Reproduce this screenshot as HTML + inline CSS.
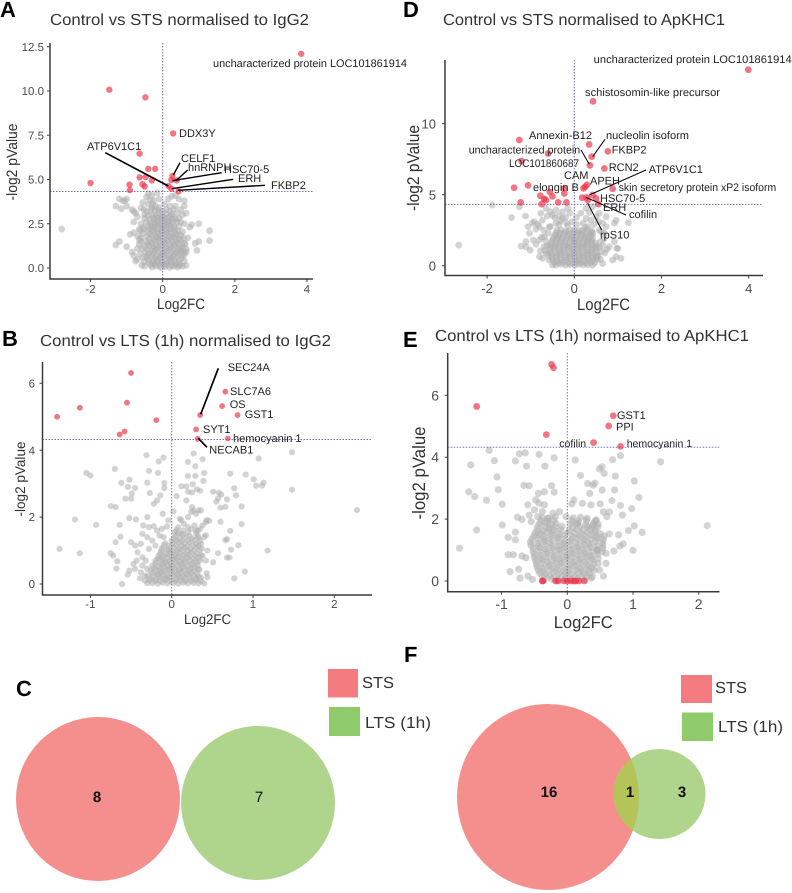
<!DOCTYPE html>
<html lang="en">
<head>
<meta charset="utf-8">
<title>Volcano plots and Venn diagrams</title>
<style>
html,body{margin:0;padding:0;background:#fff;width:792px;height:893px;overflow:hidden}
svg{display:block;font-family:"Liberation Sans",sans-serif;text-rendering:geometricPrecision}
.ann{font-size:11px;fill:#222}
.title{font-size:16px;fill:#333}
.letter{font-size:22px;font-weight:bold;fill:#000}
.lead{stroke:#000;fill:none}
.ax{stroke:#3a3a3a;stroke-width:1.5;fill:none}
.venn{font-size:16px;fill:#333}
.num{font-size:15px;fill:#111}
</style>
</head>
<body>
<svg id="figure" width="792" height="893" viewBox="0 0 792 893" xmlns="http://www.w3.org/2000/svg">
  <defs>
    <clipPath id="vennFStsClip"><ellipse cx="548" cy="797" rx="91" ry="93"/></clipPath>
  </defs>
  <rect width="792" height="893" fill="#fff"/>

  <!-- Panel A -->
  <text class="letter" x="0" y="17">A</text>
  <text class="title" x="50" y="25" textLength="259" lengthAdjust="spacingAndGlyphs">Control vs STS normalised to IgG2</text>
  <g id="panelA"></g>
  <path class="ax" d="M50 43V279H313"/>
  <text x="157" y="309" font-size="15" fill="#333" textLength="48" lengthAdjust="spacingAndGlyphs">Log2FC</text>
  <text transform="translate(17,200.5) rotate(-90)" font-size="15" fill="#333" textLength="77" lengthAdjust="spacingAndGlyphs">-log2 pValue</text>
  <g>
    <path class="lead" stroke-width="1.6" d="M105.3 152.7L168.3 186"/>
    <path class="lead" stroke-width="1.4" d="M180 162.7L173.3 175"/>
    <path class="lead" stroke-width="1.4" d="M187.7 170L175.7 181"/>
    <path class="lead" stroke-width="1.4" d="M221.7 172.7L172.3 180.7"/>
    <path class="lead" stroke-width="1.4" d="M233.3 179.3L171.7 188.7"/>
    <path class="lead" stroke-width="1.4" d="M265 185.3L177.7 190.3"/>
  </g>
  <g>
    <text class="ann" x="213" y="67" textLength="194" lengthAdjust="spacingAndGlyphs">uncharacterized protein LOC101861914</text>
    <text class="ann" x="179" y="137">DDX3Y</text>
    <text class="ann" x="87" y="150">ATP6V1C1</text>
    <text class="ann" x="181" y="162">CELF1</text>
    <text class="ann" x="188" y="171">hnRNPH</text>
    <text class="ann" x="224" y="173">HSC70-5</text>
    <text class="ann" x="238" y="182">ERH</text>
    <text class="ann" x="271" y="189">FKBP2</text>
  </g>

  <!-- Panel D -->
  <text class="letter" x="403" y="17">D</text>
  <text class="title" x="443" y="25" textLength="282" lengthAdjust="spacingAndGlyphs">Control vs STS normalised to ApKHC1</text>
  <g id="panelD"></g>
  <path class="ax" d="M445 60V275.5H763"/>
  <text x="577" y="310" font-size="16.5" fill="#333" textLength="53" lengthAdjust="spacingAndGlyphs">Log2FC</text>
  <text transform="translate(419,211) rotate(-90)" font-size="17" fill="#333" textLength="86" lengthAdjust="spacingAndGlyphs">-log2 pValue</text>
  <g>
    <path class="lead" stroke-width="1" d="M605 139.3L592.7 156.7"/>
    <path class="lead" stroke-width="1" d="M581 150L589.3 164.3"/>
    <path class="lead" stroke-width="1" d="M646 170L589.3 195"/>
    <path class="lead" stroke-width="1" d="M626 215L586 197.3"/>
    <path class="lead" stroke-width="1" d="M601.7 230L587.7 203.3"/>
  </g>
  <g>
    <text class="ann" x="593.7" y="63" textLength="198" lengthAdjust="spacingAndGlyphs">uncharacterized protein LOC101861914</text>
    <text class="ann" x="585" y="96" textLength="135" lengthAdjust="spacingAndGlyphs">schistosomin-like precursor</text>
    <text class="ann" x="529" y="139">Annexin-B12</text>
    <text class="ann" x="606" y="139" textLength="83" lengthAdjust="spacingAndGlyphs">nucleolin isoform</text>
    <text class="ann" x="468.7" y="153.5" textLength="111.5" lengthAdjust="spacingAndGlyphs">uncharacterized protein</text>
    <text class="ann" x="611.7" y="153.5">FKBP2</text>
    <text class="ann" x="509" y="167" textLength="70" lengthAdjust="spacingAndGlyphs">LOC101860687</text>
    <text class="ann" x="608.7" y="171">RCN2</text>
    <text class="ann" x="648.7" y="173">ATP6V1C1</text>
    <text class="ann" x="564" y="179">CAM</text>
    <text class="ann" x="590" y="184.5">APEH</text>
    <text class="ann" x="618.7" y="191" textLength="157.5" lengthAdjust="spacingAndGlyphs">skin secretory protein xP2 isoform</text>
    <text class="ann" x="533" y="191">elongin B</text>
    <text class="ann" x="600" y="202">HSC70-5</text>
    <text class="ann" x="603" y="211">ERH</text>
    <text class="ann" x="629" y="218">cofilin</text>
    <text class="ann" x="600" y="238.5">rpS10</text>
  </g>

  <!-- Panel B -->
  <text class="letter" x="2" y="346">B</text>
  <text class="title" x="40" y="346" textLength="291" lengthAdjust="spacingAndGlyphs">Control vs LTS (1h) normalised to IgG2</text>
  <g id="panelB"></g>
  <path class="ax" d="M42.5 362V595H372"/>
  <text x="184" y="624" font-size="14" fill="#333" textLength="47" lengthAdjust="spacingAndGlyphs">Log2FC</text>
  <text transform="translate(25,516.5) rotate(-90)" font-size="14" fill="#333" textLength="75" lengthAdjust="spacingAndGlyphs">-log2 pValue</text>
  <g>
    <path class="lead" stroke-width="1.7" d="M218.3 368.3L200.7 414.3"/>
    <path class="lead" stroke-width="1.7" d="M198.3 438.3L207 447.3"/>
  </g>
  <g>
    <text class="ann" x="227.7" y="371">SEC24A</text>
    <text class="ann" x="230" y="395">SLC7A6</text>
    <text class="ann" x="229.7" y="408">OS</text>
    <text class="ann" x="244.7" y="418">GST1</text>
    <text class="ann" x="203" y="433">SYT1</text>
    <text class="ann" x="233" y="442">hemocyanin 1</text>
    <text class="ann" x="209.3" y="453.5">NECAB1</text>
  </g>

  <!-- Panel E -->
  <text class="letter" x="403" y="347">E</text>
  <text class="title" x="435" y="341" textLength="314" lengthAdjust="spacingAndGlyphs">Control vs LTS (1h) normaised to ApKHC1</text>
  <g id="panelE"></g>
  <path class="ax" d="M447.7 353V591.7H719.5"/>
  <text x="553.7" y="628" font-size="17" fill="#333" textLength="59" lengthAdjust="spacingAndGlyphs">Log2FC</text>
  <text transform="translate(425,519.5) rotate(-90)" font-size="18" fill="#333" textLength="93" lengthAdjust="spacingAndGlyphs">-log2 pValue</text>
  <g>
    <text class="ann" x="617" y="419">GST1</text>
    <text class="ann" x="616" y="430.5">PPI</text>
    <text class="ann" x="559.3" y="447" style="font-size:10.5px">cofilin</text>
    <text class="ann" x="626.7" y="447" style="font-size:10.5px">hemocyanin 1</text>
  </g>

  <!-- Venn C -->
  <text class="letter" x="16" y="696">C</text>
  <g>
    <ellipse cx="98" cy="799" rx="82" ry="82" fill="#f58f8d"/>
    <ellipse cx="258" cy="803" rx="77" ry="77" fill="#afd58c"/>
    <text class="num" font-weight="bold" x="97" y="802" text-anchor="middle">8</text>
    <text class="num" x="259" y="802" text-anchor="middle">7</text>
    <rect x="328" y="669" width="30" height="28.5" fill="#f47c80"/>
    <text class="venn" x="362" y="688" textLength="32" lengthAdjust="spacingAndGlyphs">STS</text>
    <rect x="329" y="707" width="31" height="29" fill="#8fcb6a"/>
    <text class="venn" x="365" y="728" textLength="66" lengthAdjust="spacingAndGlyphs">LTS (1h)</text>
  </g>

  <!-- Venn F -->
  <text class="letter" x="404" y="662">F</text>
  <g>
    <ellipse cx="548" cy="797" rx="91" ry="93" fill="#f58f8d"/>
    <ellipse cx="659.5" cy="794" rx="46" ry="45" fill="#afd58c"/>
    <ellipse cx="659.5" cy="794" rx="46" ry="45" fill="#b5c458" clip-path="url(#vennFStsClip)"/>
    <text class="num" font-weight="bold" x="549" y="797" text-anchor="middle">16</text>
    <text class="num" font-weight="bold" x="630" y="797" text-anchor="middle">1</text>
    <text class="num" font-weight="bold" x="682" y="797" text-anchor="middle">3</text>
    <rect x="681" y="675" width="31" height="28" fill="#f47c80"/>
    <text class="venn" x="715" y="693" textLength="32" lengthAdjust="spacingAndGlyphs">STS</text>
    <rect x="682" y="712.5" width="31" height="28.5" fill="#8fcb6a"/>
    <text class="venn" x="718" y="732" textLength="65" lengthAdjust="spacingAndGlyphs">LTS (1h)</text>
  </g>
</svg>

<script>
/* ---------- shared chart values ---------- */
var threshold = 4.32;

/* ---------- panel A values ---------- */
var aXTicks = [-2, 0, 2, 4];
var aXLabels = ['-2', '0', '2', '4'];
var aYTicks = [0, 2.5, 5, 7.5, 10, 12.5];
var aYLabels = ['0.0', '2.5', '5.0', '7.5', '10.0', '12.5'];
var aGrayFC = [
-2.8,1.3,1.3,1.0,0.8,1.0,0.9,0.95,0.6,0.65,-1.2,-1.3,-0.8,-0.9,-0.8,-1.0,-0.85,-0.75,-0.7,-0.65,
-1.2,-1.1,-1.05,-1.0,-1.3,-1.15,-1.0,-0.85,-0.8,-0.75,-0.6,-0.55,-0.45,-0.4,-0.3,-0.25,-0.15,-0.1,-0.4,-0.3,-0.2,-0.1,0.05,0.15,0.25,0.35,0.45,0.6,0.6,0.5,0.35,0.3,0.2,0.4,0.55,0.65,0.45,0.5,0.35,0.6,-0.8,-0.7,-0.6,-0.5,-0.65,-0.55,-0.45,-0.7,-0.6,0.75,0.7,
-.3,-.19,-.11,.01,.09,.21,
-.35,-.24,-.16,-.05,.06,.14,.26,
-.4,-.29,-.2,-.09,.02,.1,.21,.31,
-.41,-.27,-.17,-.03,.08,.19,.33,
-.43,-.3,-.18,-.07,.06,.17,.3,.41,
-.46,-.33,-.2,-.09,.04,.15,.26,.39,.51,
-.5,-.38,-.25,-.14,-.01,.1,.23,.34,.46,
-.48,-.36,-.23,-.12,.01,.12,.25,.36,.49,.58,
-.45,-.32,-.21,-.08,.03,.16,.27,.39,.52,
-.38,-.25,-.14,-.02,.11,.22,.35,.46,
-.3,-.18,-.05,.06,.19,.3,.42,
-.7,-.62,-.58,-.65,-.6,-.55,-.62,-.52,-.58,-.5,-.55,-.52,-.5,-.45,-.4,-.52,-.35,-.28,-.33,-.22,-.12,0,.1,.2,
.6,.65,.55,.6,.66,.55,.62,.58,.5,.55,.42,.45,.4,.3,.25,
-.25,-.14,-.05,.05,.15,
-.33,-.22,-.12,-.02,.08,.18,.28,
-.35,-.23,-.12,-.02,.1,.2,.3,
-.36,-.24,-.12,0,.12,.24,.36,
-.38,-.25,-.13,-.01,.11,.24,.35,.46,
-.42,-.3,-.18,-.05,.07,.2,.32,.44,
-.43,-.3,-.18,-.06,.06,.18,.3,.42,.53,
-.42,-.28,-.17,-.04,.07,.19,.31,.43,.54,
-.4,-.27,-.15,-.03,.09,.21,.33,.45,
-.33,-.2,-.08,.04,.14,.25,.36,.47
];
var aGrayP = [
2.2,2.1,1.55,2.5,2.45,1.5,1.4,1.0,1.4,0.9,1.5,1.3,2.0,1.9,0.7,1.2,0.9,0.4,1.1,1.6,
3.9,3.8,3.8,3.9,3.5,3.35,3.5,3.3,3.2,3.1,3.4,3.7,4.0,4.2,4.1,3.8,4.25,3.9,3.6,3.4,3.5,3.4,3.6,3.9,4.05,4.1,3.9,3.8,3.5,3.3,3.5,3.3,3.2,3.1,3.0,3.1,2.8,2.6,2.75,2.5,2.6,2.9,2.5,2.8,2.2,2.3,2.6,1.8,1.5,2.3,1.7,
3.0,2.95,3.1,2.9,3.05,2.95,
2.7,2.75,2.65,2.8,2.7,2.65,2.75,
2.4,2.35,2.45,2.4,2.35,2.45,2.4,2.35,
2.1,2.15,2.05,2.1,2.15,2.05,2.1,
1.8,1.85,1.75,1.8,1.85,1.8,1.75,1.85,
1.5,1.45,1.55,1.5,1.45,1.55,1.5,1.45,1.55,
1.2,1.25,1.15,1.2,1.25,1.15,1.2,1.25,1.15,
.9,.85,.95,.9,.85,.95,.9,.85,.95,.9,
.6,.65,.55,.6,.65,.55,.6,.65,.55,
.3,.25,.35,.3,.25,.35,.3,.25,
.05,.1,.02,.08,.03,.1,.05,
.5,.8,1.1,1.35,1.7,1.95,2.1,.35,.15,.1,.6,2.2,3.0,3.2,2.95,3.3,3.85,3.6,3.25,3.25,3.25,3.2,3.3,3.5,
.4,.15,.1,.75,1.05,1.2,1.35,1.7,1.85,2.05,2.1,2.35,2.6,2.85,3.05,
2.85,2.82,2.88,2.85,2.82,
2.55,2.52,2.58,2.55,2.52,2.58,2.55,
2.25,2.28,2.22,2.25,2.28,2.22,2.25,
1.95,1.98,1.92,1.95,1.98,1.92,1.95,
1.65,1.62,1.68,1.65,1.62,1.68,1.65,1.62,
1.35,1.38,1.32,1.35,1.38,1.32,1.35,1.38,
1.05,1.02,1.08,1.05,1.02,1.08,1.05,1.02,1.08,
.75,.78,.72,.75,.78,.72,.75,.78,.72,
.45,.42,.48,.45,.42,.48,.45,.42,
.17,.2,.15,.18,.2,.15,.18,.15
];
var aRedFC = [3.84,-1.48,-0.48,0.29,-0.64,-0.4,-0.21,0.27,0.24,0.39,-0.64,-0.47,-0.3,-2.0,-0.92,-0.56,-0.5,-0.91,0.16,0.24,0.44];
var aRedP = [12.1,10.07,9.64,7.6,6.46,5.6,5.6,5.2,4.97,4.95,5.12,5.14,4.95,4.8,4.71,4.73,4.6,4.4,4.63,4.48,4.33];

/* ---------- panel D values ---------- */
var dXTicks = [-2, 0, 2, 4];
var dXLabels = ['-2', '0', '2', '4'];
var dYTicks = [0, 5, 10];
var dYLabels = ['0', '5', '10'];
var dGrayFC = [
-2.65,-1.88,-1.44,-1.26,-1.12,-1.22,-1.11,-1.01,-1.11,1.24,1.07,.96,.88,1.0,.92,.65,.8,.97,-.8,-.5,-.73,.65,.96,.92,
-1.06,-.96,-.84,-.88,-.77,-.65,-.42,-.27,-.5,-.73,-.57,-.42,-.27,-.15,.27,.42,.57,.5,.27,.31,.65,.57,.42,.69,.73,.73,-1.03,-.94,-.8,-.69,-.69,-.65,
-.42,-.31,-.2,-.1,.01,.1,.2,.31,.42,
-.5,-.4,-.3,-.19,-.09,.02,.11,.22,.32,.43,.52,
-.53,-.41,-.32,-.2,-.1,0,.11,.2,.31,.4,.52,
-.56,-.45,-.33,-.24,-.12,-.03,.08,.18,.3,.4,.5,
-.55,-.44,-.34,-.22,-.13,-.01,.09,.2,.29,.41,.5,
-.5,-.4,-.3,-.2,-.08,.01,.1,.21,.3,.4,
-.45,-.35,-.25,-.14,-.04,.06,.17,.27,.38,
-.4,-.31,-.2,-.1,0,.1,.19,.3,.4,
-.92,-.8,-.7,-.6,-.62,-.55,-.45,-.35,-.32,-.2,-.18,-.1,-.05,.05,.15,.2,.35,.38,.45,.55,.62,.68,.6,.58,.62,.55,.6,.7,.75,-.65,-.62,-.68,-.6,-.58,-.75,-.88,-.78,-.55,-.35,-.15,.05,.25,
-.46,-.36,-.25,-.15,-.04,.06,.16,.27,.37,.47,
-.52,-.42,-.31,-.2,-.1,.01,.11,.21,.31,.42,.51,
-.55,-.44,-.33,-.22,-.11,-.01,.09,.19,.3,.4,.51,
-.56,-.45,-.34,-.23,-.12,-.02,.08,.19,.3,.4,.5,
-.52,-.42,-.32,-.21,-.1,0,.1,.2,.3,.4,.48,
-.48,-.38,-.28,-.17,-.06,.04,.14,.24,.34,.42,
-.42,-.33,-.22,-.12,-.02,.08,.18,.28,.39
];
var dGrayP = [
1.45,4.27,3.4,4.15,3.5,1.38,1.33,1.1,1.7,3.03,.52,.63,.4,1.22,1.69,1.45,1.34,1.22,.63,.05,.52,.16,3.2,3.0,
2.75,3,2.93,2.58,3.69,4.04,3.92,3.8,3.57,3.2,2.75,3,3.33,4.04,4.04,4.15,3.69,3.45,3.33,2.75,3,2.5,2.28,2.28,3.45,2.75,2.28,1.8,1.8,2.05,1.34,.87,
.05,.1,.04,.08,.03,.1,.05,.08,.04,
.4,.35,.42,.38,.44,.36,.4,.35,.42,.38,.44,
.75,.72,.78,.74,.7,.78,.75,.72,.78,.74,.7,
1.1,1.14,1.06,1.1,1.14,1.06,1.1,1.14,1.06,1.1,1.14,
1.45,1.42,1.48,1.44,1.4,1.48,1.45,1.42,1.48,1.44,1.4,
1.8,1.84,1.76,1.8,1.84,1.76,1.8,1.84,1.76,1.8,
2.15,2.12,2.18,2.14,2.1,2.18,2.15,2.12,2.18,
2.5,2.54,2.46,2.5,2.54,2.46,2.5,2.54,2.46,
3.1,2.75,2.5,2.3,3.5,3.8,3.4,3.5,3.15,3.4,3.0,3.7,3.1,3.4,3.7,3.0,3.75,3.2,2.9,3.1,2.4,1.9,1.7,1.3,1.0,.7,.45,.9,1.15,1.75,1.4,1.05,.75,.4,2.0,1.5,1.05,2.75,2.9,2.85,2.9,2.7,
.22,.2,.24,.22,.2,.24,.22,.2,.24,.22,
.58,.6,.56,.58,.6,.56,.58,.6,.56,.58,.6,
.92,.9,.94,.92,.9,.94,.92,.9,.94,.92,.9,
1.28,1.3,1.26,1.28,1.3,1.26,1.28,1.3,1.26,1.28,1.3,
1.62,1.6,1.64,1.62,1.6,1.64,1.62,1.6,1.64,1.62,1.6,
1.98,2.0,1.96,1.98,2.0,1.96,1.98,2.0,1.96,1.98,
2.32,2.3,2.34,2.32,2.3,2.34,2.32,2.3,2.34
];
var dRedFC = [3.99,0.43,-1.26,0.34,-0.6,0.77,0.4,-1.21,0.36,0.69,-1.38,-1.06,-0.56,-0.78,-0.5,-0.23,-0.23,-0.69,-0.65,-0.75,-1.23,-0.37,-0.18,0.21,0.25,0.29,0.88,0.18,0.42,0.31,0.28,0.5,0.55];
var dRedP = [13.8,11.57,8.85,8.54,7.9,8.05,7.68,7.37,7.07,6.85,5.49,5.66,5.2,4.93,4.88,5.45,5.09,4.7,4.62,4.34,4.46,4.46,4.46,5.45,5.55,5.7,5.42,4.79,4.98,4.62,4.81,4.74,4.34];

/* ---------- panel B values ---------- */
var bXTicks = [-1, 0, 1, 2];
var bXLabels = ['-1', '0', '1', '2'];
var bYTicks = [0, 2, 4, 6];
var bYLabels = ['0', '2', '4', '6'];
var bGrayFC = [
-.31,-.1,-.16,-.7,-1.05,-1.0,-.28,-.17,-.52,-.62,-.3,-.09,-.54,-.45,-.09,-.49,-.27,-.57,-.5,-.14,-.18,-.22,-.75,-.69,-1.19,-.93,-.64,-.52,-.44,-.3,-.11,.02,-1.38,-1.13,-.75,-.72,-.67,-.68,-.69,-.63,-.61,-.54,-.39,
.27,.38,.2,.29,.4,.2,.29,.39,.26,.12,.18,.31,.35,.06,.2,.25,.51,.58,.61,.57,.55,.68,.72,.91,1.01,1.13,1.04,1.11,.77,.79,.86,1.07,1.48,1.48,2.28,1.18,.82,.73,.86,.6,.72,.68,.66,.9,.77,.71,.68,.57,.51,.6,.66,.43,.46,.42,.43,.44,.4,
-.3,-.24,-.17,-.11,-.05,.02,.08,.14,.2,.27,.33,
-.27,-.2,-.14,-.08,-.02,.05,.11,.17,.23,.3,.36,
-.24,-.18,-.12,-.06,0,.06,.12,.18,.24,.31,
-.22,-.15,-.09,-.03,.03,.09,.15,.22,.28,.33,
-.2,-.13,-.07,-.01,.05,.11,.17,.24,.31,
-.17,-.11,-.05,.01,.07,.13,.2,.27,.34,
-.14,-.08,-.02,.04,.1,.17,.24,.31,
-.12,-.04,.03,.09,.16,.23,.3,.37,
-.08,.01,.08,.15,.22,.3,
.03,.1,.17,.25,.33,-.1,
.08,.12,.2,.3,-.15,
-.35,-.28,-.22,-.18,-.12,-.06,-.04,-.36,-.3,-.24,-.2,-.28,-.38,-.45,-.5,-.42,-.36,-.32,-.43,-.45,-.36,-.3,-.52,-.33,-.38,-.47,
.1,.12,.2,.25,.18,.27,.33,.36,.24,.3,.15,.28,.38,.35,.42,.3,.4,.36,.44,.42,.38,.2,.08,.04,
-.33,-.27,-.2,-.14,-.08,-.02,.05,.11,.17,.24,.3,.36,
-.3,-.23,-.17,-.11,-.05,.02,.08,.14,.2,.27,.33,
-.26,-.2,-.14,-.08,-.02,.04,.1,.16,.22,.28,.34,
-.24,-.17,-.11,-.05,.01,.07,.13,.2,.26,.32,
-.2,-.14,-.08,-.02,.04,.1,.16,.22,.29,.35,
-.16,-.1,-.03,.03,.09,.15,.22,.29,.36,
-.13,-.06,.01,.07,.13,.2,.27,.34,
-.1,-.03,.05,.12,.19,.26,.33,
0,.06,.13,.2,.28,.35,
.05,.14,.22,.32,
.06,.14,.24,.32
];
var bGrayP = [
3.85,3.78,3.66,3.44,3.32,3.24,3.38,3.32,3.12,3.02,3.03,3.02,2.9,2.87,2.87,2.7,2.72,2.55,2.55,2.65,2.5,2.4,2.33,2.3,1.93,1.77,1.77,1.97,1.93,2.0,2.1,2.17,1.05,.92,.92,.85,.68,.46,1.25,1.41,0,.28,.17,
3.9,3.73,3.65,3.52,3.32,3.23,3.23,3.08,2.98,2.92,2.92,2.83,2.79,2.63,2.76,2.74,2.76,2.73,2.67,2.56,2.46,2.53,3.3,3.27,3.13,3.03,2.94,2.94,2.86,2.65,2.32,3.75,3.94,2.82,2.21,1.0,1.16,1.03,1.79,1.86,1.59,1.34,1.31,.37,.17,.79,.79,.92,.65,2.28,2.31,1.91,1.89,1.46,.32,.2,.02,
.02,.03,.01,.04,.02,.03,.01,.04,.02,.03,.02,
.17,.15,.19,.16,.18,.15,.19,.16,.18,.15,.19,
.32,.3,.34,.31,.33,.3,.34,.31,.33,.3,
.47,.45,.49,.46,.48,.45,.49,.46,.48,.45,
.62,.6,.64,.61,.63,.6,.64,.61,.63,
.77,.75,.79,.76,.78,.75,.79,.76,.78,
.92,.9,.94,.91,.93,.9,.94,.91,
1.07,1.05,1.09,1.06,1.08,1.05,1.09,1.06,
1.22,1.2,1.24,1.21,1.23,1.2,
1.37,1.35,1.39,1.36,1.38,1.4,
1.52,1.5,1.54,1.51,1.45,
1.75,1.7,1.73,1.6,1.65,1.72,1.9,1.5,1.4,1.3,1.15,1.05,1.2,1.15,1.25,.95,.8,.7,.7,.45,.55,.45,.4,.25,.35,.6,
1.95,1.9,2.0,2.3,2.5,2.2,2.2,2.2,2.15,2.1,1.8,1.75,1.75,1.65,1.85,1.6,1.4,1.2,1.0,.7,.85,1.7,1.7,1.55,
.1,.11,.09,.1,.12,.09,.1,.11,.09,.1,.12,.09,
.25,.24,.26,.25,.23,.26,.25,.24,.26,.25,.23,
.4,.41,.39,.4,.42,.39,.4,.41,.39,.4,.42,
.55,.54,.56,.55,.53,.56,.55,.54,.56,.55,
.7,.71,.69,.7,.72,.69,.7,.71,.69,.7,
.85,.84,.86,.85,.83,.86,.85,.84,.86,
1.0,1.01,.99,1.0,1.02,.99,1.0,1.01,
1.15,1.14,1.16,1.15,1.13,1.16,1.15,
1.3,1.31,1.29,1.3,1.32,1.29,
1.45,1.46,1.44,1.45,
1.62,1.6,1.64,1.6
];
var bRedFC = [-0.5,0.66,-0.55,-1.13,0.62,-1.41,0.35,0.81,-0.19,0.3,-0.58,-0.64,0.69,0.32];
var bRedP = [6.31,5.75,5.42,5.27,5.32,5.0,5.05,5.05,4.9,4.62,4.56,4.47,4.35,4.34];

/* ---------- panel E values ---------- */
var eXTicks = [-1, 0, 1, 2];
var eXLabels = ['-1', '0', '1', '2'];
var eYTicks = [0, 2, 4, 6];
var eYLabels = ['0', '2', '4', '6'];
var eGrayFC = [
-1.64,-1.5,-1.41,-1.23,-1.47,-1.19,-1.11,-1.07,-1.05,-.99,-.99,-1.38,-.9,-.9,-.82,-.87,-.74,-.72,-.6,-.53,-.69,-.63,-.79,-.79,-.76,-.69,-.79,-.73,-.64,-.43,-.62,-.34,-.2,.12,-.66,-.58,-.24,-.44,-.35,-.2,
1.42,2.13,.81,.69,.53,.49,.56,.73,1.02,.2,.31,.39,.42,.34,.53,.72,1.09,.68,.5,.36,.81,.98,.84,.55,.64,.6,.93,1.02,1.14,.64,.78,.85,.8,.71,1.0,.59,.46,.59,.49,.55,.36,.44,.39,.23,.1,.07,-.02,.16,
-.43,-.48,-.6,-.35,-.22,-.12,-.5,-.38,-.45,-.55,-.58,-.3,
-.35,-.24,-.14,-.04,.06,.16,.26,
-.42,-.33,-.22,-.13,-.03,.06,.16,.25,.33,
-.46,-.37,-.27,-.17,-.08,.02,.12,.21,.31,.38,
-.48,-.38,-.3,-.2,-.1,0,.09,.19,.28,.38,
-.5,-.41,-.31,-.21,-.12,-.02,.08,.17,.27,.36,.46,
-.52,-.42,-.33,-.23,-.13,-.04,.06,.16,.25,.35,.45,.54,
-.56,-.45,-.35,-.26,-.15,-.06,.04,.14,.24,.33,.43,.53,
-.51,-.43,-.34,-.24,-.14,-.04,.08,.18,.28,.38,.47,.56,
-.46,-.37,-.28,-.2,-.1,.03,.14,.24,.34,.43,
-.43,-.34,-.25,-.17,.05,.14,.28,.4,.47,
-.38,-.28,-.18,.09,.2,.3,
-.38,-.28,-.19,-.09,.01,.11,.21,.3,.38,
-.44,-.35,-.25,-.15,-.05,.04,.14,.23,.33,.41,
-.47,-.38,-.28,-.18,-.09,.01,.1,.2,.3,.4,.47,
-.5,-.4,-.3,-.2,-.11,-.01,.08,.18,.28,.37,.47,
-.52,-.42,-.32,-.22,-.12,-.03,.07,.17,.26,.36,.45,.53,
-.55,-.44,-.34,-.24,-.14,-.05,.05,.15,.25,.34,.44,.54,
-.54,-.44,-.35,-.25,-.15,-.05,.06,.16,.26,.36,.45,.55,
-.49,-.4,-.31,-.22,-.12,0,.11,.21,.31,.41,.5,
-.45,-.35,-.27,-.18,-.08,.08,.19,.3,.38,.46,
-.4,-.3,-.21,.07,.17,.29,.43
];
var eGrayP = [
1.06,2.88,2.73,2.61,3.75,4.22,3.89,3.36,2.95,2.48,1.81,1.65,1.41,.85,.85,.3,.38,.09,.16,.05,.81,.75,1.58,1.33,2.06,1.99,3.88,4.11,4.14,4.09,3.71,3.71,3.98,3.91,3.09,3.08,3.08,2.83,2.88,2.87,
3.85,1.79,4.05,3.92,3.69,3.62,3.48,3.39,3.23,3.41,3.15,3.1,3.16,2.83,2.94,2.94,2.7,2.6,2.49,2.46,2.44,2.34,2.13,2.23,2.23,2.08,1.63,1.78,1.57,1.52,1.49,1.2,1.13,.97,.99,.89,1.0,.57,.36,.16,.09,1.97,1.81,2.51,2.62,2.49,2.08,1.86,
2.51,2.62,2.46,2.46,2.19,2.24,2.3,2.24,2.08,1.92,2.13,2.03,
.05,.07,.04,.06,.05,.07,.04,
.25,.23,.27,.24,.26,.23,.27,.24,.26,
.45,.43,.47,.44,.46,.43,.47,.44,.46,.43,
.65,.67,.63,.66,.64,.67,.63,.66,.64,.67,
.85,.83,.87,.84,.86,.83,.87,.84,.86,.83,.87,
1.05,1.07,1.03,1.06,1.04,1.07,1.03,1.06,1.04,1.07,1.03,1.06,
1.25,1.23,1.27,1.24,1.26,1.23,1.27,1.24,1.26,1.23,1.27,1.24,
1.45,1.47,1.43,1.46,1.44,1.47,1.43,1.46,1.44,1.47,1.43,1.46,
1.65,1.63,1.67,1.64,1.66,1.63,1.67,1.64,1.66,1.63,
1.85,1.87,1.83,1.86,1.84,1.87,1.83,1.86,1.84,
2.05,2.03,2.07,2.04,2.06,2.03,
.15,.16,.14,.15,.17,.14,.15,.16,.14,
.35,.34,.36,.35,.33,.36,.35,.34,.36,.35,
.55,.56,.54,.55,.57,.54,.55,.56,.54,.55,.57,
.75,.74,.76,.75,.73,.76,.75,.74,.76,.75,.73,
.95,.96,.94,.95,.97,.94,.95,.96,.94,.95,.97,.94,
1.15,1.14,1.16,1.15,1.13,1.16,1.15,1.14,1.16,1.15,1.13,1.16,
1.35,1.36,1.34,1.35,1.37,1.34,1.35,1.36,1.34,1.35,1.37,1.34,
1.55,1.54,1.56,1.55,1.53,1.56,1.55,1.54,1.56,1.55,1.53,
1.75,1.76,1.74,1.75,1.77,1.74,1.75,1.76,1.74,1.75,
1.95,1.94,1.96,1.95,1.93,1.96,1.95
];
var eRedFC = [-0.24,-0.21,-1.38,0.7,0.63,-0.32,0.4,0.81,-0.38,-0.37,-0.18,-0.14,-0.05,0,0.05,0.1,0.13,0.18,0.26];
var eRedP = [7.0,6.89,5.64,5.34,5.01,4.73,4.47,4.35,0,0,0,0,0,0,0,0,0,0,0];

/* ---------- axis helpers ---------- */
var SVGNS = 'http://www.w3.org/2000/svg';

function linearScale(v0, px0, v1, px1) {
  return function (v) { return px0 + (v - v0) * (px1 - px0) / (v1 - v0); };
}

function drawTicks(group, xs, ys, xTicks, xLabels, yTicks, yLabels, axisX, axisY, xLabelY, yLabelX, fontSize) {
  xTicks.forEach(function (t, i) {
    var tick = document.createElementNS(SVGNS, 'line');
    
    
    tick.setAttribute('x1', xs(t));
    tick.setAttribute('x2', xs(t));
    tick.setAttribute('y1', axisY);
    tick.setAttribute('y2', axisY + 3);
    tick.setAttribute('stroke', '#444');
    group.appendChild(tick);
    var label = document.createElementNS(SVGNS, 'text');
    
    
    label.setAttribute('x', xs(t));
    label.setAttribute('y', xLabelY);
    label.setAttribute('text-anchor', 'middle');
    label.setAttribute('font-size', fontSize);
    label.setAttribute('fill', '#4d4d4d');
    label.textContent = xLabels[i];
    group.appendChild(label);
  });
  yTicks.forEach(function (t, i) {
    var tick = document.createElementNS(SVGNS, 'line');
    
    
    tick.setAttribute('x1', axisX - 3);
    tick.setAttribute('x2', axisX);
    tick.setAttribute('y1', ys(t));
    tick.setAttribute('y2', ys(t));
    tick.setAttribute('stroke', '#444');
    group.appendChild(tick);
    var label = document.createElementNS(SVGNS, 'text');
    
    
    label.setAttribute('x', yLabelX);
    label.setAttribute('y', ys(t) + fontSize * 0.36);
    label.setAttribute('text-anchor', 'end');
    label.setAttribute('font-size', fontSize);
    label.setAttribute('fill', '#4d4d4d');
    label.textContent = yLabels[i];
    group.appendChild(label);
  });
}

function drawRefLines(group, xs, ys, x0, x1, yTop, yBottom) {
  var h = document.createElementNS(SVGNS, 'line');
  
  
  h.setAttribute('x1', x0);
  h.setAttribute('x2', x1);
  h.setAttribute('y1', ys(threshold));
  h.setAttribute('y2', ys(threshold));
  h.setAttribute('stroke', '#7373b5');
  h.setAttribute('stroke-width', '1');
  h.setAttribute('stroke-dasharray', '1.5 1.5');
  group.appendChild(h);
  var v = document.createElementNS(SVGNS, 'line');
  
  
  v.setAttribute('x1', xs(0));
  v.setAttribute('x2', xs(0));
  v.setAttribute('y1', yTop);
  v.setAttribute('y2', yBottom);
  v.setAttribute('stroke', '#7373b5');
  v.setAttribute('stroke-width', '1');
  v.setAttribute('stroke-dasharray', '1.5 1.5');
  group.appendChild(v);
}

function drawGray(group, xs, ys, fc, p, r) {
  var n = Math.min(fc.length, p.length);
  for (var i = 0; i < n; i++) {
    var c = document.createElementNS(SVGNS, 'circle');
    
    
    c.setAttribute('cx', xs(fc[i]));
    c.setAttribute('cy', ys(p[i]));
    c.setAttribute('r', r);
    c.setAttribute('fill', '#aeaeae');
    c.setAttribute('fill-opacity', '0.55');
    group.appendChild(c);
  }
}

function drawRed(group, xs, ys, fc, p, r) {
  var n = Math.min(fc.length, p.length);
  for (var i = 0; i < n; i++) {
    var c = document.createElementNS(SVGNS, 'circle');
    
    
    c.setAttribute('cx', xs(fc[i]));
    c.setAttribute('cy', ys(p[i]));
    c.setAttribute('r', r);
    c.setAttribute('fill', '#ea3348');
    c.setAttribute('fill-opacity', '0.68');
    group.appendChild(c);
  }
}

/* ---------- panel A ---------- */
var gA = document.getElementById('panelA');
var axA = linearScale(0, 162.7, 4, 307);
var ayA = linearScale(0, 268, 12.5, 46.7);
drawGray(gA, axA, ayA, aGrayFC, aGrayP, 3.4);
drawRefLines(gA, axA, ayA, 50, 314, 43, 279);
drawRed(gA, axA, ayA, aRedFC, aRedP, 3.2);
drawTicks(gA, axA, ayA, aXTicks, aXLabels, aYTicks, aYLabels, 50, 279, 293, 44, 11.5);

/* ---------- panel D ---------- */
var gD = document.getElementById('panelD');
var axD = linearScale(0, 574.3, 4, 748.7);
var ayD = linearScale(0, 265.7, 10, 123.7);
drawGray(gD, axD, ayD, dGrayFC, dGrayP, 3.4);
drawRefLines(gD, axD, ayD, 445, 763, 60, 275);
drawRed(gD, axD, ayD, dRedFC, dRedP, 3.4);
drawTicks(gD, axD, ayD, dXTicks, dXLabels, dYTicks, dYLabels, 445, 275.5, 293, 436, 13);

/* ---------- panel B ---------- */
var gB = document.getElementById('panelB');
var axB = linearScale(0, 171.7, 2, 334.3);
var ayB = linearScale(0, 584, 6, 383.3);
drawGray(gB, axB, ayB, bGrayFC, bGrayP, 3.1);
drawRefLines(gB, axB, ayB, 42.5, 372, 362, 595);
drawRed(gB, axB, ayB, bRedFC, bRedP, 2.9);
drawTicks(gB, axB, ayB, bXTicks, bXLabels, bYTicks, bYLabels, 42.5, 595, 608, 35, 11.5);

/* ---------- panel E ---------- */
var gE = document.getElementById('panelE');
var axE = linearScale(0, 567.3, 2, 698.7);
var ayE = linearScale(0, 581, 6, 395.3);
drawGray(gE, axE, ayE, eGrayFC, eGrayP, 3.6);
drawRefLines(gE, axE, ayE, 447.7, 720, 353, 592);
drawRed(gE, axE, ayE, eRedFC, eRedP, 3.4);
drawTicks(gE, axE, ayE, eXTicks, eXLabels, eYTicks, eYLabels, 447.7, 591.7, 609, 439, 14);
</script>
</body>
</html>
